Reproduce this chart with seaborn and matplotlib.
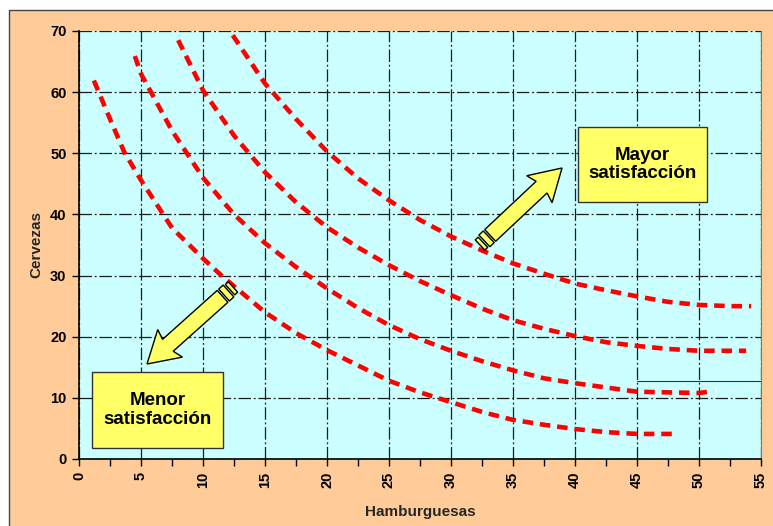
import numpy as np
import pandas as pd
import seaborn as sns
import matplotlib.pyplot as plt
from matplotlib.patches import Polygon, Rectangle
from matplotlib.ticker import MultipleLocator

# curvas de indiferencia
x_c1 = [1.2, 2.5, 3.65, 5, 7.5, 10, 11.6, 15, 17.5, 20, 22.5, 25, 27.5, 30, 32.5, 35, 37.5, 40, 42.5, 45, 48.3]
y_c1 = [61.9, 55.6, 50.2, 45.6, 37.8, 32.8, 29.8, 24, 20.6, 17.8, 15.3, 12.8, 10.9, 9.3, 7.7, 6.4, 5.6, 4.9, 4.4, 4.1, 4.1]

x_c2 = [4.5, 5, 7.5, 10, 12.5, 15, 17.5, 20, 22.5, 25, 27.5, 30, 32.5, 35, 37.5, 40, 42.5, 45, 47.5, 50, 51.2]
y_c2 = [65.9, 63, 53.7, 46, 40, 35.3, 31.4, 27.9, 24.7, 21.9, 19.6, 17.7, 16.0, 14.5, 13.2, 12.4, 11.7, 11.0, 10.9, 10.8, 11.1]

x_c3 = [8.0, 10, 12.5, 15, 17.5, 20, 22.5, 25, 27.5, 30, 32.5, 35, 37.5, 40, 42.5, 45, 47.5, 50, 53.8]
y_c3 = [68.5, 60.3, 52.9, 46.9, 42, 37.9, 34.6, 31.7, 29.1, 26.8, 24.6, 22.7, 21.3, 20.1, 19.1, 18.5, 18.0, 17.7, 17.7]

x_c4 = [12.4, 15, 17.5, 20, 22.5, 25, 27.5, 30, 32.5, 35, 37.5, 40, 42.5, 45, 47.5, 50, 52.5, 54.2]
y_c4 = [69.3, 61.4, 55.6, 50.3, 45.9, 42.3, 39.1, 36.4, 34.1, 32, 30.3, 28.7, 27.6, 26.6, 25.7, 25.2, 25.0, 25.0]

linea_suelta_y = 12.8
linea_suelta_x = [45, 55]

texto_menor = 'Menor\nsatisfacción'
texto_mayor = 'Mayor\nsatisfacción'

df = pd.concat([
    pd.DataFrame({'Hamburguesas': x, 'Cervezas': y, 'curva': i})
    for i, (x, y) in enumerate([(x_c1, y_c1), (x_c2, y_c2), (x_c3, y_c3), (x_c4, y_c4)])
])

MELOCOTON = '#FFCC99'
CIAN = '#CCFFFF'
AMARILLO = '#FFFF66'

sns.set_style('ticks')
plt.rcParams['font.family'] = ['Liberation Sans', 'DejaVu Sans']

W, H = 773, 526
fig = plt.figure(figsize=(W / 100, H / 100), dpi=100)
fig.patch.set_facecolor('white')
fig.patches.append(Rectangle((9 / W, -0.01), 1.0, (H - 10) / H + 0.01, transform=fig.transFigure,
                             fc=MELOCOTON, ec='#444444', lw=1, zorder=-5))

# area de trazado en pixeles de la imagen
AX_L, AX_R, AX_T, AX_B = 79, 761, 31, 459
ax = fig.add_axes([AX_L / W, (H - AX_B) / H, (AX_R - AX_L) / W, (AX_B - AX_T) / H])
ax.set_facecolor(CIAN)
ax.set_xlim(0, 55)
ax.set_ylim(0, 70)


def px2data(px, py):
    return ((px - AX_L) / (AX_R - AX_L) * 55, (AX_B - py) / (AX_B - AX_T) * 70)


ax.set_axisbelow(True)
ax.grid(True, which='major', color='#1a1a1a', lw=0.9, linestyle=(0, (10, 2.2, 1.5, 2.2)))

sns.lineplot(data=df, x='Hamburguesas', y='Cervezas', hue='curva', units='curva', estimator=None,
             palette=['#FF0000'] * 4, legend=False, lw=3.3, linestyle=(0, (2.3, 1.5)), ax=ax, zorder=3)

ax.plot(linea_suelta_x, [linea_suelta_y] * 2, color='#333333', lw=0.8, zorder=2)


def flecha(tail, tip, w=8, hw=18.5, hl=28, s0=14, bandas=((0, 4), (6, 12))):
    T = np.array(tail, float)
    P = np.array(tip, float)
    L = np.hypot(*(P - T))
    u = (P - T) / L
    n = np.array([-u[1], u[0]])
    b = T + (L - hl) * u
    pts = [T + s0 * u + w * n, b + w * n, b - 3 * u + hw * n, P, b - 3 * u - hw * n, b - w * n, T + s0 * u - w * n]
    ax.add_patch(Polygon([px2data(*p) for p in pts], closed=True, fc=AMARILLO, ec='black', lw=1, zorder=5))
    for i, (a, c) in enumerate(bandas):
        ww = w - 1 if i == 0 else w
        pts = [T + a * u + ww * n, T + c * u + ww * n, T + c * u - ww * n, T + a * u - ww * n]
        ax.add_patch(Polygon([px2data(*p) for p in pts], closed=True, fc=AMARILLO, ec='black', lw=1, zorder=5))


flecha((480, 245), (562, 168))
flecha((233, 287), (147, 364))


def caja(x0, y0, x1, y1, texto):
    a = px2data(x0, y1)
    b = px2data(x1, y0)
    ax.add_patch(Rectangle(a, b[0] - a[0], b[1] - a[1], fc=AMARILLO, ec='#333333', lw=1, zorder=6))
    ax.text((a[0] + b[0]) / 2, (a[1] + b[1]) / 2, texto, ha='center', va='center', fontsize=13.5,
            fontweight='bold', linespacing=1.15, color='black', zorder=7)


caja(92, 372, 223, 448, texto_menor)
caja(578, 127, 707, 202, texto_mayor)

ax.xaxis.set_major_locator(MultipleLocator(5))
ax.xaxis.set_minor_locator(MultipleLocator(2.5))
ax.yaxis.set_major_locator(MultipleLocator(10))
ax.tick_params(axis='both', which='both', direction='out', length=5, width=1, color='black',
               labelsize=10.5, labelcolor='black')
ax.tick_params(axis='x', which='major', labelrotation=90, pad=4)
ax.tick_params(axis='y', pad=4)
for lab in ax.get_xticklabels() + ax.get_yticklabels():
    lab.set_fontweight('bold')

for s in ['left', 'bottom']:
    ax.spines[s].set_color('black')
    ax.spines[s].set_linewidth(1.2)
ax.spines['top'].set_visible(False)
ax.spines['right'].set_color('#777777')
ax.spines['right'].set_linewidth(0.8)

ax.set_xlabel('Hamburguesas', fontsize=11, fontweight='bold', labelpad=12)
ax.set_ylabel('Cervezas', fontsize=11, fontweight='bold', labelpad=5)

fig.savefig('out.png', dpi=100)
